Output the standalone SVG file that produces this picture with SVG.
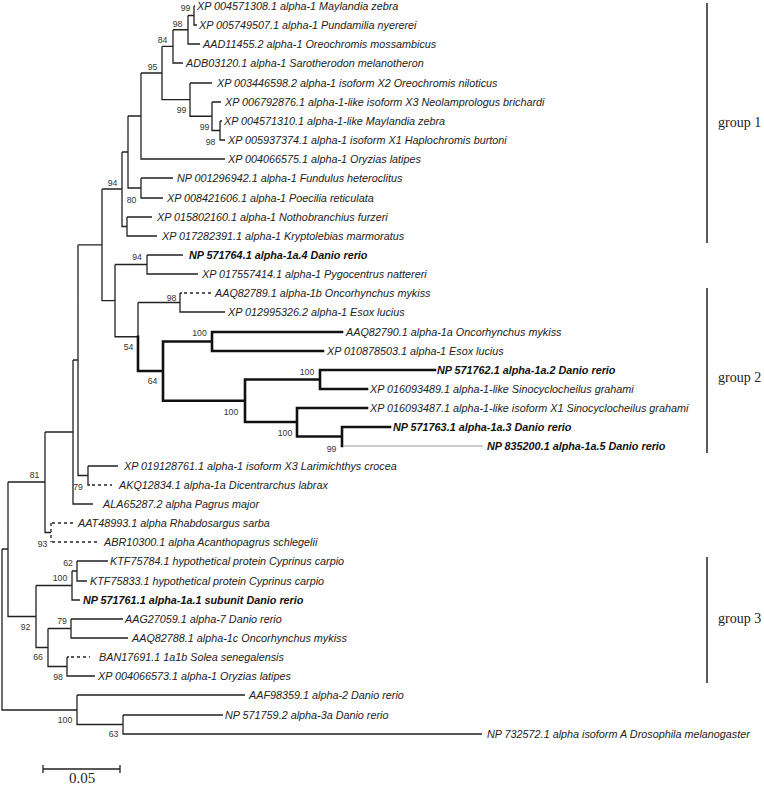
<svg xmlns="http://www.w3.org/2000/svg" width="764" height="786" viewBox="0 0 764 786">
<style>
.b{fill:none;stroke:#222;stroke-width:1.3}
.t{fill:none;stroke:#111;stroke-width:2.6;stroke-linecap:square}
.g{fill:none;stroke:#9a9a9a;stroke-width:1.1}
.d{fill:none;stroke:#222;stroke-width:1.3;stroke-dasharray:3,3}
.bar{fill:none;stroke:#222;stroke-width:1.5}
.lab{font-family:"Liberation Sans",Arial,sans-serif;font-size:10.8px;font-style:italic;fill:#222}
.bold{font-weight:bold;fill:#111}
.bs{font-family:"Liberation Sans",Arial,sans-serif;font-size:8.7px;fill:#333;text-anchor:middle}
.grp{font-family:"Liberation Serif","Times New Roman",serif;font-size:14px;fill:#222}
</style>
<rect width="764" height="786" fill="#fff"/>
<g id="connectors">
<path class="b" d="M194,6 H195 M194,6 V25 H197 M188,15.5 H194 M188,15.5 V44 H200 M173,29.75 H188 M173,29.75 V63 H183 M220,121 H222 M220,121 V140 H225 M212,102 H221 M212,102 V130.5 H220 M190,83 H212 M190,83 V116.25 H212 M162,46.4 H173 M162,46.4 V99.6 H190 M141,73 H162 M141,73 V159 H225 M141,178 H173 M141,178 V198 H163 M128,116 H141 M128,116 V188 H141 M127,217 H152 M127,217 V236 H157 M122,152 H128 M122,152 V226.5 H127 M147,255 H183 M147,255 V274 H198 M180,293 H182 M180,293 V312 H225 M115,264.5 H147 M115,264.5 V336.75 H138 M138,302.5 H180 M138,302.5 V336.75 M102,189 H122 M102,189 V300.6 H115 M78,244.8 H102 M78,244.8 V475.5 H88 M88,466 H118 M88,466 V485 H90 M73,360 H78 M73,360 V504 H93 M45,432 H73 M45,432 V532.5 H51 M8,482 H45 M8,482 V616.5 H36 M36,585.5 H72 M36,585.5 V647.5 H48 M72,571 H77 M72,571 V600 H80 M77,561 H108 M77,561 V581 H87 M48,628.5 H71 M48,628.5 V666.5 H67 M71,619 H123 M71,619 V638 H128 M67,657 H69 M67,657 V676 H95 M2,549 H8 M2,549 V710 H77 M77,695 H245 M77,695 V724.5 H123 M123,715 H223 M123,715 V734 H482"/>
<path class="t" d="M138,336.75 V371 H163 M163,341.5 V400.75 M163,341.5 H212 M212,332 V351 M212,332 H342 M212,351 H323 M163,400.75 H245 M245,379.5 V422 M245,379.5 H320 M320,370 V389 M320,370 H435 M320,389 H367 M245,422 H297 M297,408 V436.5 M297,408 H367 M297,436.5 H342 M342,427 V446 M342,427 H390"/>
<path class="g" d="M343,446 H483"/>
<path class="d" d="M184,293 H212 M92,485 H112 M51,523 V542 M52,523 H75 M52,542 H100 M71,657 H90"/>
</g>
<g id="leaves">
<g id="leaf1"><text class="lab" x="197" y="9.8">XP 004571308.1 alpha-1 Maylandia zebra</text></g>
<g id="leaf2"><text class="lab" x="199" y="28.8">XP 005749507.1 alpha-1 Pundamilia nyererei</text></g>
<g id="leaf3"><text class="lab" x="203" y="47.8">AAD11455.2 alpha-1 Oreochromis mossambicus</text></g>
<g id="leaf4"><text class="lab" x="186" y="66.8">ADB03120.1 alpha-1 Sarotherodon melanotheron</text></g>
<g id="leaf5"><text class="lab" x="217" y="86.8">XP 003446598.2 alpha-1 isoform X2 Oreochromis niloticus</text></g>
<g id="leaf6"><text class="lab" x="225" y="105.8">XP 006792876.1 alpha-1-like isoform X3 Neolamprologus brichardi</text></g>
<g id="leaf7"><text class="lab" x="224" y="124.8">XP 004571310.1 alpha-1-like Maylandia zebra</text></g>
<g id="leaf8"><text class="lab" x="228" y="143.8">XP 005937374.1 alpha-1 isoform X1 Haplochromis burtoni</text></g>
<g id="leaf9"><text class="lab" x="228" y="162.8">XP 004066575.1 alpha-1 Oryzias latipes</text></g>
<g id="leaf10"><text class="lab" x="177" y="181.8">NP 001296942.1 alpha-1 Fundulus heteroclitus</text></g>
<g id="leaf11"><text class="lab" x="167" y="201.8">XP 008421606.1 alpha-1 Poecilia reticulata</text></g>
<g id="leaf12"><text class="lab" x="157" y="220.8">XP 015802160.1 alpha-1 Nothobranchius furzeri</text></g>
<g id="leaf13"><text class="lab" x="162" y="239.8">XP 017282391.1 alpha-1 Kryptolebias marmoratus</text></g>
<g id="leaf14"><text class="lab bold" x="189" y="258.8">NP 571764.1 alpha-1a.4 Danio rerio</text></g>
<g id="leaf15"><text class="lab" x="202" y="277.8">XP 017557414.1 alpha-1 Pygocentrus nattereri</text></g>
<g id="leaf16"><text class="lab" x="215" y="296.8">AAQ82789.1 alpha-1b Oncorhynchus mykiss</text></g>
<g id="leaf17"><text class="lab" x="228" y="315.8">XP 012995326.2 alpha-1 Esox lucius</text></g>
<g id="leaf18"><text class="lab" x="346" y="335.8">AAQ82790.1 alpha-1a Oncorhynchus mykiss</text></g>
<g id="leaf19"><text class="lab" x="327" y="354.8">XP 010878503.1 alpha-1 Esox lucius</text></g>
<g id="leaf20"><text class="lab bold" x="437" y="373.8">NP 571762.1 alpha-1a.2 Danio rerio</text></g>
<g id="leaf21"><text class="lab" x="370" y="392.8">XP 016093489.1 alpha-1-like Sinocyclocheilus grahami</text></g>
<g id="leaf22"><text class="lab" x="370" y="411.8">XP 016093487.1 alpha-1-like isoform X1 Sinocyclocheilus grahami</text></g>
<g id="leaf23"><text class="lab bold" x="393" y="430.8">NP 571763.1 alpha-1a.3 Danio rerio</text></g>
<g id="leaf24"><text class="lab bold" x="487" y="449.8">NP 835200.1 alpha-1a.5 Danio rerio</text></g>
<g id="leaf25"><text class="lab" x="124" y="469.8">XP 019128761.1 alpha-1 isoform X3 Larimichthys crocea</text></g>
<g id="leaf26"><text class="lab" x="119" y="488.8">AKQ12834.1 alpha-1a Dicentrarchus labrax</text></g>
<g id="leaf27"><text class="lab" x="103" y="507.8">ALA65287.2 alpha Pagrus major</text></g>
<g id="leaf28"><text class="lab" x="78" y="526.8">AAT48993.1 alpha Rhabdosargus sarba</text></g>
<g id="leaf29"><text class="lab" x="104" y="545.8">ABR10300.1 alpha Acanthopagrus schlegelii</text></g>
<g id="leaf30"><text class="lab" x="110" y="564.8">KTF75784.1 hypothetical protein Cyprinus carpio</text></g>
<g id="leaf31"><text class="lab" x="90" y="584.8">KTF75833.1 hypothetical protein Cyprinus carpio</text></g>
<g id="leaf32"><text class="lab bold" x="83" y="603.8">NP 571761.1 alpha-1a.1 subunit Danio rerio</text></g>
<g id="leaf33"><text class="lab" x="125" y="622.8">AAG27059.1 alpha-7 Danio rerio</text></g>
<g id="leaf34"><text class="lab" x="132" y="641.8">AAQ82788.1 alpha-1c Oncorhynchus mykiss</text></g>
<g id="leaf35"><text class="lab" x="99" y="660.8">BAN17691.1 1a1b Solea senegalensis</text></g>
<g id="leaf36"><text class="lab" x="98" y="679.8">XP 004066573.1 alpha-1 Oryzias latipes</text></g>
<g id="leaf37"><text class="lab" x="249" y="698.8">AAF98359.1 alpha-2 Danio rerio</text></g>
<g id="leaf38"><text class="lab" x="225" y="718.8">NP 571759.2 alpha-3a Danio rerio</text></g>
<g id="leaf39"><text class="lab" x="487" y="737.8">NP 732572.1 alpha isoform A Drosophila melanogaster</text></g>
</g>
<g id="bootstrap">
<text class="bs" x="185.5" y="10.5">99</text>
<text class="bs" x="177.5" y="27">98</text>
<text class="bs" x="162.5" y="43">84</text>
<text class="bs" x="152.5" y="70">95</text>
<text class="bs" x="181.5" y="113">99</text>
<text class="bs" x="204.5" y="130">99</text>
<text class="bs" x="210.5" y="145">98</text>
<text class="bs" x="112.5" y="186">94</text>
<text class="bs" x="131.5" y="203">80</text>
<text class="bs" x="137" y="260">94</text>
<text class="bs" x="171.5" y="301">98</text>
<text class="bs" x="128.5" y="350">54</text>
<text class="bs" x="152.5" y="384">64</text>
<text class="bs" x="199.5" y="336">100</text>
<text class="bs" x="231" y="415">100</text>
<text class="bs" x="307" y="375">100</text>
<text class="bs" x="285" y="436">100</text>
<text class="bs" x="331.5" y="452">99</text>
<text class="bs" x="78" y="490">79</text>
<text class="bs" x="34.5" y="478">81</text>
<text class="bs" x="42.5" y="547">93</text>
<text class="bs" x="68" y="566">62</text>
<text class="bs" x="60" y="581">100</text>
<text class="bs" x="25.5" y="630">92</text>
<text class="bs" x="62" y="624">79</text>
<text class="bs" x="38" y="660">66</text>
<text class="bs" x="58" y="680">98</text>
<text class="bs" x="65" y="723">100</text>
<text class="bs" x="113.5" y="737">63</text>
</g>
<g id="group1"><path class="bar" d="M707,3 V243"/><text class="grp" x="718" y="127">group 1</text></g>
<g id="group2"><path class="bar" d="M707,288 V453"/><text class="grp" x="718" y="382">group 2</text></g>
<g id="group3"><path class="bar" d="M707,557 V683"/><text class="grp" x="718" y="623">group 3</text></g>
<g id="scalebar"><path class="b" d="M43,769 H120 M43,765 V773 M120,765 V773"/><text class="grp" x="82" y="783" text-anchor="middle" font-size="15px" style="font-size:15px">0.05</text></g>
</svg>
